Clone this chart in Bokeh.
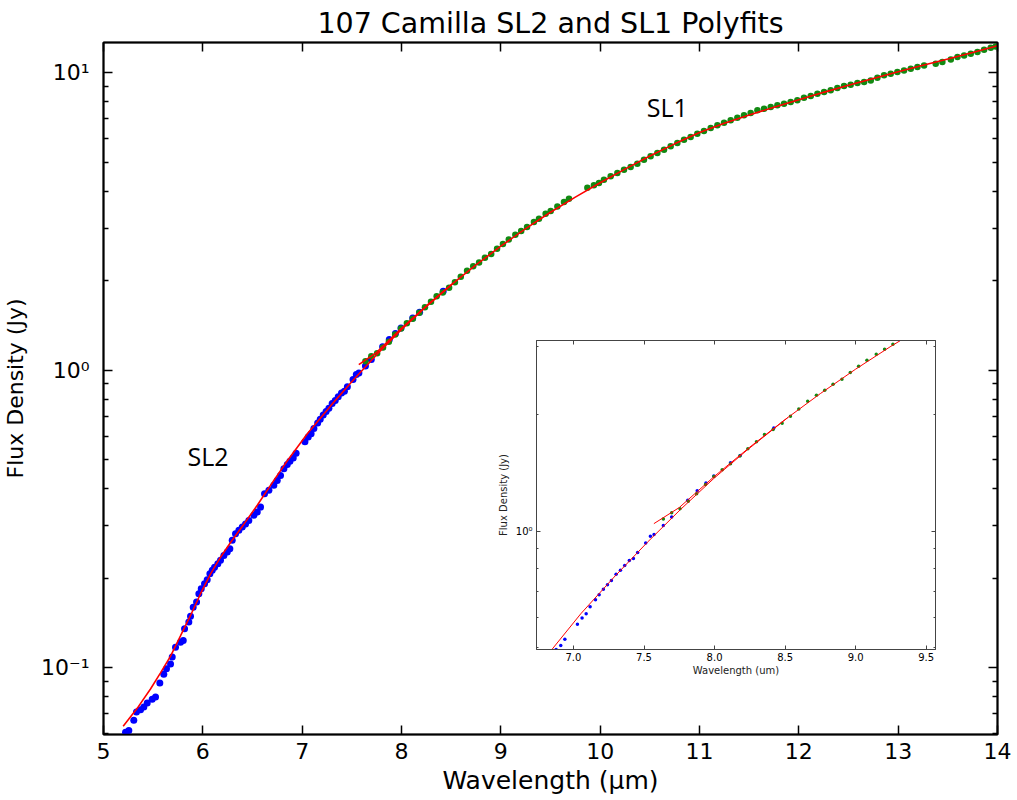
from bokeh.plotting import figure
from bokeh.models import (FixedTicker, LinearAxis, LogAxis, CustomJSTickFormatter,
                          PrintfTickFormatter, Range1d, Label)
from bokeh.layouts import column
from bokeh.embed import file_html
from bokeh.resources import INLINE

# ---------------- data ----------------
sl2_wave = [5.222, 5.255, 5.305, 5.332, 5.373, 5.406, 5.440, 5.490, 5.524, 5.567,
            5.607, 5.634, 5.675, 5.692, 5.725, 5.775, 5.803, 5.816, 5.859, 5.876,
            5.903, 5.937, 5.960, 5.984, 6.017, 6.044, 6.071, 6.095, 6.118, 6.151,
            6.178, 6.212, 6.246, 6.272, 6.296, 6.329, 6.363, 6.397, 6.430, 6.463,
            6.514, 6.548, 6.581, 6.621, 6.665, 6.715, 6.749, 6.782, 6.816, 6.850,
            6.877, 6.910, 6.939, 7.028, 7.061, 7.090, 7.118, 7.156, 7.182, 7.212,
            7.241, 7.269, 7.302, 7.333, 7.363, 7.396, 7.425, 7.455, 7.512, 7.545,
            7.571, 7.637, 7.696, 7.810, 7.877, 7.939, 7.995, 8.113, 8.182, 8.420]
sl2_flux = [0.0608, 0.0616, 0.0666, 0.0710, 0.0723, 0.0738, 0.0762, 0.0784, 0.0798, 0.0889,
            0.0951, 0.0993, 0.1030, 0.1087, 0.1174, 0.1220, 0.1237, 0.1354, 0.1426, 0.1490,
            0.1600, 0.1664, 0.1775, 0.1845, 0.1918, 0.1979, 0.2073, 0.2130, 0.2180, 0.2240,
            0.2298, 0.2388, 0.2450, 0.2515, 0.2684, 0.2825, 0.2900, 0.2974, 0.3045, 0.3130,
            0.3260, 0.3340, 0.3470, 0.3850, 0.3950, 0.4106, 0.4267, 0.4435, 0.4672, 0.4830,
            0.4950, 0.5070, 0.5260, 0.5750, 0.5970, 0.6120, 0.6380, 0.6650, 0.6850, 0.7080,
            0.7270, 0.7460, 0.7740, 0.7920, 0.8150, 0.8400, 0.8500, 0.8810, 0.9310, 0.9690,
            0.9800, 1.0340, 1.0870, 1.2000, 1.2700, 1.3300, 1.3870, 1.5000, 1.5670, 1.8450]

sl1_wave = [7.637, 7.696, 7.755, 7.814, 7.873, 7.936, 7.995, 8.054, 8.113, 8.179,
            8.236, 8.297, 8.354, 8.415, 8.479, 8.538, 8.597, 8.660, 8.722, 8.781,
            8.840, 8.903, 8.962, 9.021, 9.080, 9.146, 9.205, 9.264, 9.333, 9.384,
            9.451, 9.502, 9.569, 9.636, 9.686, 9.871, 9.937, 9.988, 10.038, 10.106,
            10.173, 10.240, 10.307, 10.374, 10.441, 10.508, 10.576, 10.643, 10.710, 10.777,
            10.844, 10.911, 10.978, 11.045, 11.113, 11.180, 11.247, 11.314, 11.381, 11.448,
            11.515, 11.583, 11.650, 11.717, 11.784, 11.851, 11.918, 11.985, 12.052, 12.120,
            12.187, 12.254, 12.321, 12.388, 12.455, 12.522, 12.590, 12.657, 12.724, 12.791,
            12.858, 12.925, 12.992, 13.059, 13.127, 13.194, 13.261, 13.378, 13.445, 13.530,
            13.597, 13.664, 13.731, 13.798, 13.865, 13.932, 13.983]
sl1_flux = [1.074, 1.115, 1.142, 1.193, 1.248, 1.319, 1.383, 1.439, 1.492, 1.561,
            1.630, 1.700, 1.773, 1.828, 1.896, 1.976, 2.064, 2.161, 2.239, 2.306,
            2.390, 2.462, 2.562, 2.659, 2.756, 2.856, 2.942, 3.031, 3.152, 3.236,
            3.363, 3.433, 3.557, 3.680, 3.777, 4.110, 4.190, 4.264, 4.375, 4.490,
            4.605, 4.726, 4.825, 4.951, 5.108, 5.241, 5.378, 5.518, 5.662, 5.810,
            5.962, 6.087, 6.246, 6.375, 6.525, 6.662, 6.802, 6.925, 7.070, 7.198,
            7.328, 7.482, 7.578, 7.677, 7.776, 7.877, 7.979, 8.083, 8.252, 8.360,
            8.511, 8.622, 8.734, 8.895, 9.030, 9.126, 9.245, 9.317, 9.435, 9.632,
            9.809, 9.936, 10.065, 10.195, 10.327, 10.462, 10.597, 10.735, 10.874, 11.098,
            11.302, 11.449, 11.598, 11.749, 11.962, 12.151, 12.274]

sl2_fit_wave = [5.198, 5.339, 5.473, 5.574, 5.675, 5.775, 5.876, 5.977, 6.078, 6.178,
                6.279, 6.413, 6.548, 6.715, 6.847, 7.052, 7.288, 7.524, 7.759, 7.995,
                8.231, 8.519]
sl2_fit_flux = [0.0636, 0.0731, 0.0849, 0.0962, 0.1095, 0.1280, 0.1500, 0.1775, 0.2070, 0.2355,
                0.2639, 0.3041, 0.3520, 0.4268, 0.4950, 0.6120, 0.7610, 0.9357, 1.1370, 1.3670,
                1.6180, 1.9610]

sl1_fit_wave = [7.57, 7.75, 8.0, 8.25, 8.5, 8.75, 9.0, 9.25, 9.5, 9.75, 10.0, 10.25, 10.5,
                10.75, 11.0, 11.25, 11.5, 11.75, 12.0, 12.25, 12.5, 12.75, 13.0, 13.25,
                13.5, 13.75, 14.0]
sl1_fit_flux = [1.045, 1.150, 1.385, 1.646, 1.939, 2.262, 2.615, 2.995, 3.400, 3.823, 4.270,
                4.747, 5.253, 5.773, 6.302, 6.767, 7.218, 7.663, 8.120, 8.600, 9.088, 9.581,
                10.08, 10.60, 11.13, 11.70, 12.34]

x_ticks = [5, 6, 7, 8, 9, 10, 11, 12, 13, 14]
y_ticks = [0.1, 1, 10]
y_minor = [0.06, 0.07, 0.08, 0.09, 0.2, 0.3, 0.4, 0.5, 0.6, 0.7, 0.8, 0.9,
           2, 3, 4, 5, 6, 7, 8, 9]
y_tick_labels = {0.1: "10\u207b\u00b9", 1: "10\u2070", 10: "10\u00b9"}

inset_x_ticks = [7.0, 7.5, 8.0, 8.5, 9.0, 9.5]
inset_y_ticks = [1]
inset_y_minor = [0.5, 0.6, 0.7, 0.8, 0.9, 2, 3]
inset_y_labels = {1: "10\u2070"}

FONT = "DejaVu Sans"
empty = CustomJSTickFormatter(code="return ''")


def style_axis(ax, major_in, minor_in, lw, color, fs, standoff):
    ax.major_tick_in = major_in
    ax.major_tick_out = 0
    ax.minor_tick_in = minor_in
    ax.minor_tick_out = 0
    ax.axis_line_width = lw
    ax.axis_line_color = color
    ax.major_tick_line_width = lw
    ax.minor_tick_line_width = lw
    ax.major_tick_line_color = color
    ax.minor_tick_line_color = color
    ax.major_label_text_font = FONT
    ax.major_label_text_font_size = fs
    ax.major_label_text_color = "black"
    ax.major_label_standoff = standoff


def style_label(ax, fs, standoff, color="black"):
    ax.axis_label_text_font = FONT
    ax.axis_label_text_font_size = fs
    ax.axis_label_text_font_style = "normal"
    ax.axis_label_text_color = color
    ax.axis_label_standoff = standoff


# ---------------- main figure ----------------
p = figure(width=1017, height=800, x_range=Range1d(5, 14), y_range=Range1d(0.0597, 12.65),
           y_axis_type="log", output_backend="svg", toolbar_location=None,
           min_border_left=103, min_border_right=20, min_border_top=42, min_border_bottom=66,
           x_axis_location=None, y_axis_location=None)
p.grid.visible = False
p.outline_line_color = "black"
p.outline_line_width = 2
p.background_fill_color = "white"
p.border_fill_color = "white"

p.title.text = "107 Camilla SL2 and SL1 Polyfits"
p.title.align = "center"
p.title.text_font = FONT
p.title.text_font_size = "28.5px"
p.title.text_font_style = "normal"
p.title.text_color = "black"
p.title.standoff = 6

xt = FixedTicker(ticks=x_ticks, minor_ticks=[])
yt = FixedTicker(ticks=y_ticks, minor_ticks=y_minor)

xb = LinearAxis(ticker=xt, axis_label="Wavelength (\u03bcm)")
style_axis(xb, 9, 0, 1.5, "black", "22px", 8)
style_label(xb, "25px", 4)
p.add_layout(xb, "below")

xa = LinearAxis(ticker=xt, formatter=empty)
style_axis(xa, 9, 0, 1.5, "black", "1px", 0)
p.add_layout(xa, "above")

yl = LogAxis(ticker=yt, axis_label="Flux Density (Jy)")
style_axis(yl, 9, 5, 1.5, "black", "22px", 14)
yl.major_label_overrides = y_tick_labels
style_label(yl, "22px", 10)
p.add_layout(yl, "left")

yr = LogAxis(ticker=yt, formatter=empty)
style_axis(yr, 9, 5, 1.5, "black", "1px", 0)
p.add_layout(yr, "right")

p.scatter(sl2_wave, sl2_flux, size=7, color="#0000ff", line_color=None)
p.scatter(sl1_wave, sl1_flux, size=6.5, color="#128a12", line_color=None)
p.line(sl2_fit_wave, sl2_fit_flux, line_color="#ff0000", line_width=1.6)
p.line(sl1_fit_wave, sl1_fit_flux, line_color="#ff0000", line_width=1.6)

p.add_layout(Label(x=10.47, y=7.03, y_offset=11, text="SL1", text_font="Open Sans",
                   text_font_size="25px", text_color="black", text_baseline="alphabetic"))
p.add_layout(Label(x=5.846, y=0.4757, y_offset=10, text="SL2", text_font="Open Sans",
                   text_font_size="25px", text_color="black", text_baseline="alphabetic"))

# ---------------- inset ----------------
ins = figure(width=522, height=345, x_range=Range1d(6.738, 9.566), y_range=Range1d(0.495, 3.1),
             y_axis_type="log", output_backend="svg", toolbar_location=None,
             min_border_left=103, min_border_right=20, min_border_top=5, min_border_bottom=31,
             x_axis_location=None, y_axis_location=None)
ins.grid.visible = False
ins.outline_line_color = "#444444"
ins.outline_line_width = 1
ins.background_fill_color = "white"
ins.border_fill_color = "white"
ins.margin = (-465, 0, 0, 433)

ixt = FixedTicker(ticks=inset_x_ticks, minor_ticks=[])
iyt = FixedTicker(ticks=inset_y_ticks, minor_ticks=inset_y_minor)

ixb = LinearAxis(ticker=ixt, axis_label="Wavelength (um)", formatter=PrintfTickFormatter(format="%.1f"))
style_axis(ixb, 4, 0, 1, "#444444", "10px", 3)
style_label(ixb, "10px", 1, "#222222")
ins.add_layout(ixb, "below")

ixa = LinearAxis(ticker=ixt, formatter=empty)
style_axis(ixa, 4, 0, 1, "#444444", "1px", 0)
ins.add_layout(ixa, "above")

iyl = LogAxis(ticker=iyt, axis_label="Flux Density (Jy)")
style_axis(iyl, 4, 2, 1, "#444444", "10px", 4)
iyl.major_label_overrides = inset_y_labels
style_label(iyl, "10px", 4, "#222222")
ins.add_layout(iyl, "left")

iyr = LogAxis(ticker=iyt, formatter=empty)
style_axis(iyr, 4, 2, 1, "#444444", "1px", 0)
ins.add_layout(iyr, "right")

ins.scatter(sl2_wave, sl2_flux, size=3.5, color="#0000ff", line_color=None)
ins.scatter(sl1_wave, sl1_flux, size=3.5, color="#128a12", line_color=None)
ins.line(sl2_fit_wave, sl2_fit_flux, line_color="#ff0000", line_width=1)
ins.line(sl1_fit_wave, sl1_fit_flux, line_color="#ff0000", line_width=1)

layout = column(p, ins, spacing=0)
open("out.html", "w").write(file_html(layout, INLINE))
